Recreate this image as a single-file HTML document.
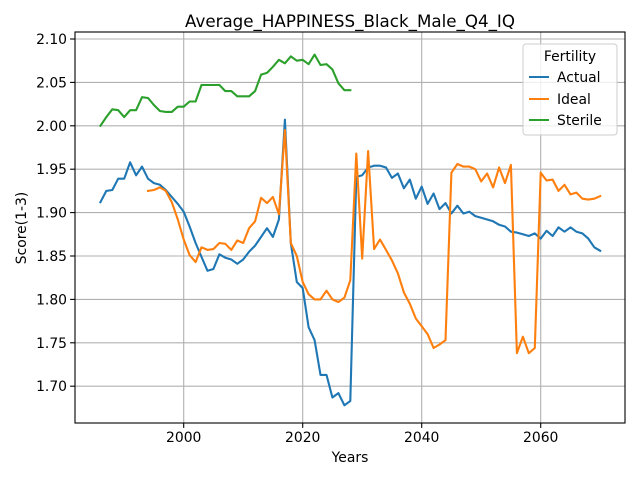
<!DOCTYPE html>
<html><head><meta charset="utf-8"><style>
body{margin:0;background:#fff;font-family:"DejaVu Sans","Liberation Sans",sans-serif}
svg text{font-family:"DejaVu Sans","Liberation Sans",sans-serif}
</style></head><body>
<svg id="chart" width="640" height="480" xmlns="http://www.w3.org/2000/svg" style="position:absolute;left:0;top:0">
<rect width="640" height="480" fill="#fff"/>
<g id="grid"></g><g id="series"></g><g id="axes"></g>
</svg>
<script>
const actualYears=[];for(let y=1986;y<=2070;y++)actualYears.push(y);
const actualValues=[1.912,1.925,1.926,1.939,1.939,1.958,1.943,1.953,1.939,1.934,1.932,1.926,1.918,1.910,1.901,1.884,1.865,1.849,1.833,1.835,1.852,1.848,1.846,1.841,1.846,1.855,1.862,1.872,1.882,1.872,1.892,2.007,1.865,1.820,1.813,1.768,1.753,1.713,1.713,1.687,1.692,1.678,1.683,1.941,1.943,1.952,1.954,1.954,1.952,1.940,1.945,1.928,1.938,1.916,1.930,1.910,1.922,1.904,1.911,1.899,1.908,1.899,1.901,1.896,1.894,1.892,1.890,1.886,1.884,1.878,1.877,1.875,1.873,1.876,1.870,1.879,1.873,1.883,1.878,1.883,1.878,1.876,1.870,1.860,1.856];
const idealYears=[];for(let y=1994;y<=2070;y++)idealYears.push(y);
const idealValues=[1.925,1.926,1.929,1.925,1.912,1.892,1.869,1.851,1.843,1.860,1.857,1.858,1.865,1.864,1.857,1.868,1.865,1.882,1.890,1.917,1.911,1.918,1.898,1.995,1.865,1.850,1.820,1.806,1.800,1.800,1.810,1.800,1.797,1.802,1.822,1.968,1.847,1.971,1.858,1.869,1.857,1.845,1.830,1.808,1.795,1.778,1.769,1.760,1.744,1.748,1.753,1.946,1.956,1.953,1.953,1.950,1.936,1.945,1.929,1.952,1.934,1.955,1.738,1.757,1.738,1.744,1.946,1.937,1.938,1.925,1.932,1.921,1.923,1.916,1.915,1.916,1.919];
const sterileYears=[];for(let y=1986;y<=2028;y++)sterileYears.push(y);
const sterileValues=[2.000,2.010,2.019,2.018,2.010,2.018,2.018,2.033,2.032,2.024,2.017,2.016,2.016,2.022,2.022,2.028,2.028,2.047,2.047,2.047,2.047,2.040,2.040,2.034,2.034,2.034,2.040,2.059,2.061,2.068,2.076,2.072,2.080,2.075,2.076,2.071,2.082,2.070,2.071,2.065,2.049,2.041,2.041];
const xTicks=[2000,2020,2040,2060];
const yTicks=[1.70,1.75,1.80,1.85,1.90,1.95,2.00,2.05,2.10];

const L=75,R=625,T=32,B=423;
const X=v=>183.7+(v-2000)*5.95;
const Y=v=>39+(2.10-v)/0.05*43.4;
const NS="http://www.w3.org/2000/svg";
function mk(t,a,p){const e=document.createElementNS(NS,t);for(const k in a)e.setAttribute(k,a[k]);p.appendChild(e);return e;}
const grid=document.getElementById('grid'),ser=document.getElementById('series'),ax=document.getElementById('axes');
xTicks.forEach(t=>{const x=X(t);
 const g=mk('line',{x1:x,x2:x,y1:T,y2:B,stroke:'#b0b0b0','stroke-width':1.1},grid);
 
 
 mk('line',{x1:x,x2:x,y1:B,y2:B+4.9,stroke:'#000','stroke-width':1.1},ax);
 const tx=mk('text',{x:x,y:B+19,'font-size':13.9,'text-anchor':'middle'},ax);tx.textContent=t;
 
 
});
yTicks.forEach(t=>{const y=Y(t);
 const g=mk('line',{x1:L,x2:R,y1:y,y2:y,stroke:'#b0b0b0','stroke-width':1.1},grid);
 
 
 mk('line',{x1:L-4.9,x2:L,y1:y,y2:y,stroke:'#000','stroke-width':1.1},ax);
 const tx=mk('text',{x:L-8,y:y+5,'font-size':13.9,'text-anchor':'end'},ax);tx.textContent=t.toFixed(2);
 
 
});
function line(xs,vs,c,name){const d=xs.map((x,i)=>(i?'L':'M')+X(x).toFixed(1)+','+Y(vs[i]).toFixed(1)).join('');
 const p=mk('path',{d:d,fill:'none',stroke:c,'stroke-width':2.1,'stroke-linejoin':'round','stroke-linecap':'square'},ser);
 
 }
line(actualYears,actualValues,'#1f77b4','actual-line');
line(idealYears,idealValues,'#ff7f0e','ideal-line');
line(sterileYears,sterileValues,'#2ca02c','sterile-line');
const fr=mk('rect',{x:L,y:T,width:R-L,height:B-T,fill:'none',stroke:'#000','stroke-width':1.1},ax);


</script>
<svg style="position:absolute;left:0;top:0" width="640" height="480">
<text x="350" y="27" font-size="16.7" text-anchor="middle">Average_HAPPINESS_Black_Male_Q4_IQ</text>
<text x="350" y="462" font-size="13.9" text-anchor="middle">Years</text>
<text x="26" y="228" font-size="13.9" text-anchor="middle" transform="rotate(-90 26 228)">Score(1-3)</text>
<g>
<rect x="523" y="44" width="94" height="91" rx="3" fill="#fff" fill-opacity="0.8" stroke="#ccc"/>
<text x="570" y="61" font-size="13.9" text-anchor="middle">Fertility</text>
<line x1="529" x2="549" y1="77" y2="77" stroke="#1f77b4" stroke-width="2.1"/><text x="557" y="82" font-size="13.9">Actual</text>
<line x1="529" x2="549" y1="99" y2="99" stroke="#ff7f0e" stroke-width="2.1"/><text x="557" y="104" font-size="13.9">Ideal</text>
<line x1="529" x2="549" y1="120" y2="120" stroke="#2ca02c" stroke-width="2.1"/><text x="557" y="125" font-size="13.9">Sterile</text>
</g>
</svg>
</body></html>
